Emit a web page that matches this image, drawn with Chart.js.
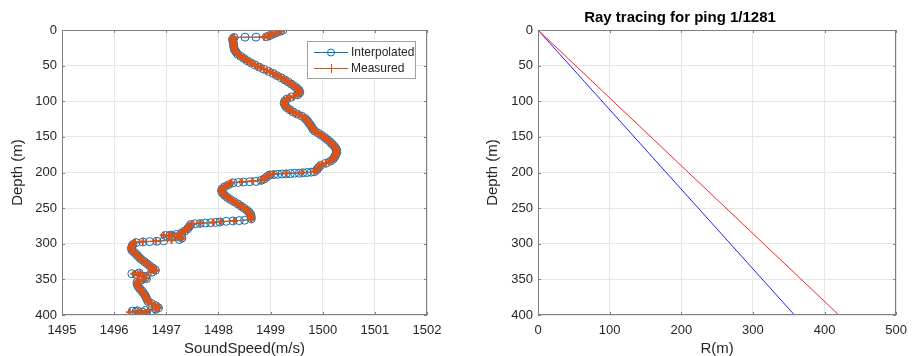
<!DOCTYPE html>
<html>
<head>
<meta charset="utf-8">
<script src="https://cdn.jsdelivr.net/npm/chart.js@4.4.1/dist/chart.umd.min.js"></script>
<style>
  html, body { margin: 0; padding: 0; background: #fff; }
  #wrap { position: relative; width: 915px; height: 356px; }
  #c1 { position: absolute; left: 0; top: 0; }
  #c2 { position: absolute; left: 457px; top: 0; }
</style>
</head>
<body>
<div id="wrap">
  <canvas id="c1" width="457" height="356"></canvas>
  <canvas id="c2" width="458" height="356"></canvas>
</div>
<script>
// ---- Left panel: sound speed profile ----
const measuredDepth = [0,1.5,3,4.5,6,7.5,9,10,10.5,11,13,15,17,19,21,23,25,27,29,31,33,35,37,39,41,43,45,47,49,51,53,55,57,59,61,63,65,67,69,71,73,75,77,79,81,83,85,87,89,91,93,95,97,99,101,103,105,107,109,111,113,115,117,119,121,123,125,127,129,131,133,135,137,139,141,143,145,147,149,151,153,155,157,159,161,163,165,167,169,171,173,175,177,179,181,183,185,187,189,191,193,195,197,199,200,201,202,203,205,207,209,211,212,213,214,216,218,220,222,224,226,228,230,232,234,236,238,240,242,244,246,248,250,252,254,256,258,260,262,264,266,268,269,270,271,272,274,276,278,280,282,284,286,287,288,289,290,291,293,295,296,297,298,300,302,304,306,308,310,312,314,316,318,320,322,324,326,328,330,332,334,336,338,340,341,342,344,346,348,350,352,354,356,358,360,362,364,366,368,370,372,374,376,378,380,382,384,386,388,390,392,394,395,396,397,398,399,400];
const measuredSpeed = [1499.25,1499.20,1499.14,1499.08,1499.03,1498.99,1498.95,1498.88,1498.30,1498.28,1498.27,1498.28,1498.28,1498.29,1498.29,1498.30,1498.30,1498.31,1498.32,1498.34,1498.36,1498.39,1498.43,1498.47,1498.51,1498.55,1498.60,1498.65,1498.70,1498.75,1498.81,1498.87,1498.93,1498.99,1499.05,1499.10,1499.15,1499.20,1499.25,1499.30,1499.34,1499.38,1499.42,1499.46,1499.50,1499.53,1499.55,1499.56,1499.55,1499.52,1499.44,1499.36,1499.31,1499.28,1499.27,1499.26,1499.27,1499.28,1499.31,1499.35,1499.39,1499.43,1499.48,1499.54,1499.60,1499.65,1499.68,1499.70,1499.72,1499.74,1499.76,1499.78,1499.80,1499.81,1499.83,1499.87,1499.92,1499.96,1500.00,1500.04,1500.08,1500.11,1500.14,1500.17,1500.20,1500.22,1500.24,1500.26,1500.27,1500.27,1500.26,1500.25,1500.24,1500.22,1500.20,1500.17,1500.13,1500.06,1499.98,1499.94,1499.92,1499.90,1499.88,1499.84,1499.60,1499.30,1499.05,1498.98,1498.95,1498.92,1498.88,1498.82,1498.65,1498.45,1498.25,1498.22,1498.17,1498.12,1498.08,1498.06,1498.06,1498.07,1498.09,1498.12,1498.16,1498.19,1498.23,1498.27,1498.32,1498.37,1498.41,1498.45,1498.49,1498.53,1498.56,1498.59,1498.61,1498.62,1498.63,1498.63,1498.63,1498.30,1498.05,1497.90,1497.65,1497.50,1497.46,1497.44,1497.42,1497.40,1497.36,1497.31,1497.27,1497.10,1496.95,1497.05,1497.20,1497.28,1497.30,1497.10,1496.80,1496.55,1496.40,1496.36,1496.35,1496.34,1496.33,1496.33,1496.35,1496.38,1496.41,1496.44,1496.47,1496.49,1496.52,1496.56,1496.60,1496.63,1496.66,1496.70,1496.74,1496.78,1496.80,1496.70,1496.50,1496.38,1496.45,1496.55,1496.62,1496.55,1496.47,1496.44,1496.44,1496.45,1496.46,1496.48,1496.50,1496.53,1496.55,1496.57,1496.59,1496.60,1496.62,1496.63,1496.64,1496.66,1496.72,1496.78,1496.83,1496.85,1496.80,1496.65,1496.45,1496.30,1496.50,1496.60,1496.55,1496.52];

const interpDepth = [0,2,4,6,8,9.5,10,10,10.5,13,16,19,22,25,28,31,34,37,40,43,46,49,52,55,58,61,64,67,70,73,76,79,82,85,88,91,94,97,100,103,106,109,112,115,118,121,124,127,130,133,136,139,142,145,148,151,154,157,160,163,166,169,172,175,178,181,184,187,190,193,196,199,199.5,200,200.5,201,201,201.5,202,202,202.5,203,203.5,206,209,211,212.5,213,213.5,214,214.5,217,220,223,226,229,232,235,238,241,244,247,250,253,256,259,262,265,267,267.5,268,268.5,269.5,270,270.5,271,271.5,272,273,276,279,282,285,287,288,288.5,289,290,292,294,296,296.5,297,297.5,298.5,301,304,307,310,313,316,319,322,325,328,331,334,337,340,341,342,343,345,347,349,351,354,357,360,363,366,369,372,375,378,381,384,387,390,392,393.5,394,394.5,395,396,397,398,399,400];
const interpSpeed = [1499.24,1499.18,1499.10,1499.04,1498.98,1498.92,1498.72,1498.51,1498.30,1498.27,1498.28,1498.29,1498.29,1498.30,1498.31,1498.34,1498.37,1498.43,1498.49,1498.55,1498.62,1498.70,1498.78,1498.87,1498.96,1499.05,1499.12,1499.20,1499.27,1499.34,1499.40,1499.46,1499.51,1499.55,1499.56,1499.52,1499.40,1499.31,1499.27,1499.26,1499.28,1499.31,1499.37,1499.43,1499.51,1499.60,1499.66,1499.70,1499.73,1499.76,1499.79,1499.81,1499.85,1499.92,1499.98,1500.04,1500.09,1500.14,1500.18,1500.22,1500.25,1500.27,1500.27,1500.25,1500.23,1500.20,1500.15,1500.06,1499.96,1499.92,1499.89,1499.84,1499.78,1499.70,1499.62,1499.55,1499.46,1499.38,1499.30,1499.22,1499.14,1499.06,1498.98,1498.93,1498.88,1498.82,1498.72,1498.60,1498.48,1498.38,1498.28,1498.20,1498.12,1498.07,1498.06,1498.08,1498.12,1498.17,1498.23,1498.30,1498.37,1498.43,1498.49,1498.55,1498.59,1498.62,1498.63,1498.63,1498.50,1498.40,1498.28,1498.15,1498.03,1497.95,1497.85,1497.75,1497.65,1497.55,1497.47,1497.44,1497.41,1497.36,1497.29,1497.19,1497.07,1496.98,1497.12,1497.22,1497.30,1497.25,1496.95,1496.82,1496.68,1496.55,1496.42,1496.36,1496.34,1496.33,1496.35,1496.40,1496.44,1496.48,1496.52,1496.58,1496.63,1496.68,1496.74,1496.79,1496.72,1496.48,1496.34,1496.42,1496.52,1496.60,1496.62,1496.52,1496.44,1496.44,1496.46,1496.49,1496.53,1496.56,1496.59,1496.61,1496.63,1496.65,1496.72,1496.80,1496.85,1496.80,1496.60,1496.45,1496.35,1496.42,1496.55,1496.70,1496.62,1496.50,1496.55];

const speedTicks = [1495,1496,1497,1498,1499,1500,1501,1502];
const depthTicks = [0,50,100,150,200,250,300,350,400];

// ---- Right panel: ray tracing ----
const rayRedR = [0, 420];
const rayRedZ = [0, 400];
const rayBlueR = [0, 358];
const rayBlueZ = [0, 400];
const rangeTicks = [0,100,200,300,400,500];

const FONT = "'Liberation Sans', Arial, Helvetica, sans-serif";
const GRID = '#e6e6e6';
const AXIS = '#7f7f7f';
const TXT = '#262626';
const BLUE = '#0072BD';
const ORANGE = '#D95319';

function pts(xs, ys) { return xs.map((x, i) => ({x: x, y: ys[i]})); }

// MATLAB-style box with inward tick marks
const boxPlugin = {
  id: 'box',
  afterDatasetsDraw(chart) {
    const {ctx, chartArea: a, scales} = chart;
    ctx.save();
    ctx.strokeStyle = AXIS;
    ctx.lineWidth = 1;
    ctx.strokeRect(Math.round(a.left) + 0.5, Math.round(a.top) + 0.5, Math.round(a.right - a.left) - 1, Math.round(a.bottom - a.top) - 1);
    const tl = 3;
    ctx.beginPath();
    scales.x.ticks.forEach(t => {
      const px = Math.round(scales.x.getPixelForValue(t.value)) + 0.5;
      ctx.moveTo(px, a.bottom); ctx.lineTo(px, a.bottom - tl);
      ctx.moveTo(px, a.top); ctx.lineTo(px, a.top + tl);
    });
    scales.y.ticks.forEach(t => {
      const py = Math.round(scales.y.getPixelForValue(t.value)) + 0.5;
      ctx.moveTo(a.left, py); ctx.lineTo(a.left + tl, py);
      ctx.moveTo(a.right, py); ctx.lineTo(a.right - tl, py);
    });
    ctx.stroke();
    ctx.restore();
  }
};

function legendIcon(kind, color) {
  const c = document.createElement('canvas');
  c.width = 34; c.height = 12;
  const g = c.getContext('2d');
  g.strokeStyle = color; g.lineWidth = 1;
  g.beginPath(); g.moveTo(0, 6.5); g.lineTo(34, 6.5); g.stroke();
  g.beginPath();
  if (kind === 'circle') { g.arc(17, 6.5, 3.5, 0, Math.PI * 2); }
  else { g.moveTo(17.5, 2); g.lineTo(17.5, 11); g.moveTo(13, 6.5); g.lineTo(22, 6.5); }
  g.stroke();
  return c;
}
const iconI = legendIcon('circle', BLUE);
const iconM = legendIcon('cross', ORANGE);

function fixed(w, h) {
  return function(scale) {
    if (w !== undefined) scale.width = w;
    if (h !== undefined) scale.height = h;
  };
}
const plain = v => String(v);

const tickFont = {family: FONT, size: 13};
const titleFont = {family: FONT, size: 15, lineHeight: 1.0};

new Chart(document.getElementById('c1'), {
  type: 'scatter',
  data: {
    datasets: [
      {
        label: 'Interpolated',
        data: pts(interpSpeed, interpDepth),
        showLine: true,
        borderColor: BLUE,
        borderWidth: 1,
        pointStyle: 'circle',
        pointRadius: 4,
        pointBorderWidth: 1,
        pointBackgroundColor: 'rgba(0,0,0,0)',
        pointBorderColor: BLUE,
        order: 2
      },
      {
        label: 'Measured',
        data: pts(measuredSpeed, measuredDepth),
        showLine: true,
        borderColor: ORANGE,
        borderWidth: 1,
        pointStyle: 'cross',
        pointRadius: 3.8,
        pointBorderWidth: 2,
        pointBorderColor: ORANGE,
        order: 1
      }
    ]
  },
  options: {
    responsive: false,
    animation: false,
    layout: {padding: {top: 30, right: 30, left: 0, bottom: 0}},
    plugins: {
      legend: {display: false},
      tooltip: {enabled: false}
    },
    scales: {
      x: {
        type: 'linear', min: 1495, max: 1502,
        afterBuildTicks: s => { s.ticks = speedTicks.map(v => ({value: v})); },
        afterFit: fixed(undefined, 41),
        grid: {color: GRID, drawTicks: false},
        border: {display: false},
        ticks: {font: tickFont, color: TXT, padding: 8, maxRotation: 0, callback: plain},
        title: {display: true, text: 'SoundSpeed(m/s)', font: titleFont, color: TXT, padding: 0}
      },
      y: {
        type: 'linear', reverse: true, min: 0, max: 400,
        afterBuildTicks: s => { s.ticks = depthTicks.map(v => ({value: v})); },
        afterFit: fixed(62, undefined),
        grid: {color: GRID, drawTicks: false},
        border: {display: false},
        ticks: {font: tickFont, color: TXT, padding: 5, callback: plain},
        title: {display: true, text: 'Depth (m)', font: titleFont, color: TXT, padding: {top: 10, bottom: 0}}
      }
    }
  },
  plugins: [boxPlugin, {
    id: 'matlabLegend',
    afterDraw(chart) {
      const {ctx} = chart;
      const x = 307, y = 41, w = 108, h = 37;
      ctx.save();
      ctx.fillStyle = '#fff';
      ctx.fillRect(x, y, w, h);
      ctx.strokeStyle = '#a0a0a0';
      ctx.lineWidth = 1;
      ctx.strokeRect(x + 0.5, y + 0.5, w, h);
      ctx.drawImage(iconI, x + 7, y + 5);
      ctx.drawImage(iconM, x + 7, y + 21);
      ctx.fillStyle = TXT;
      ctx.font = '12px ' + FONT;
      ctx.textBaseline = 'middle';
      ctx.fillText('Interpolated', x + 44, y + 11.5);
      ctx.fillText('Measured', x + 44, y + 27.5);
      ctx.restore();
    }
  }]
});

new Chart(document.getElementById('c2'), {
  type: 'scatter',
  data: {
    datasets: [
      {
        label: 'ray1',
        data: pts(rayRedR, rayRedZ),
        showLine: true,
        borderColor: '#ff2020',
        borderWidth: 1,
        pointRadius: 0
      },
      {
        label: 'ray2',
        data: pts(rayBlueR, rayBlueZ),
        showLine: true,
        borderColor: '#2020ff',
        borderWidth: 1,
        pointRadius: 0
      }
    ]
  },
  options: {
    responsive: false,
    animation: false,
    layout: {padding: {top: 0, right: 12, left: 0, bottom: 0}},
    plugins: {
      legend: {display: false},
      tooltip: {enabled: false},
      title: {
        display: true,
        text: 'Ray tracing for ping 1/1281',
        font: {family: FONT, size: 15, weight: 'bold', lineHeight: 1.2},
        color: '#000',
        padding: {top: 9, bottom: 3}
      }
    },
    scales: {
      x: {
        type: 'linear', min: 0, max: 500,
        afterBuildTicks: s => { s.ticks = rangeTicks.map(v => ({value: v})); },
        afterFit: fixed(undefined, 41),
        grid: {color: GRID, drawTicks: false},
        border: {display: false},
        ticks: {font: tickFont, color: TXT, padding: 8, maxRotation: 0, callback: plain},
        title: {display: true, text: 'R(m)', font: titleFont, color: TXT, padding: 0}
      },
      y: {
        type: 'linear', reverse: true, min: 0, max: 400,
        afterBuildTicks: s => { s.ticks = depthTicks.map(v => ({value: v})); },
        afterFit: fixed(81, undefined),
        grid: {color: GRID, drawTicks: false},
        border: {display: false},
        ticks: {font: tickFont, color: TXT, padding: 5, callback: plain},
        title: {display: true, text: 'Depth (m)', font: titleFont, color: TXT, padding: {top: 28, bottom: 0}}
      }
    }
  },
  plugins: [boxPlugin]
});
</script>
</body>
</html>
